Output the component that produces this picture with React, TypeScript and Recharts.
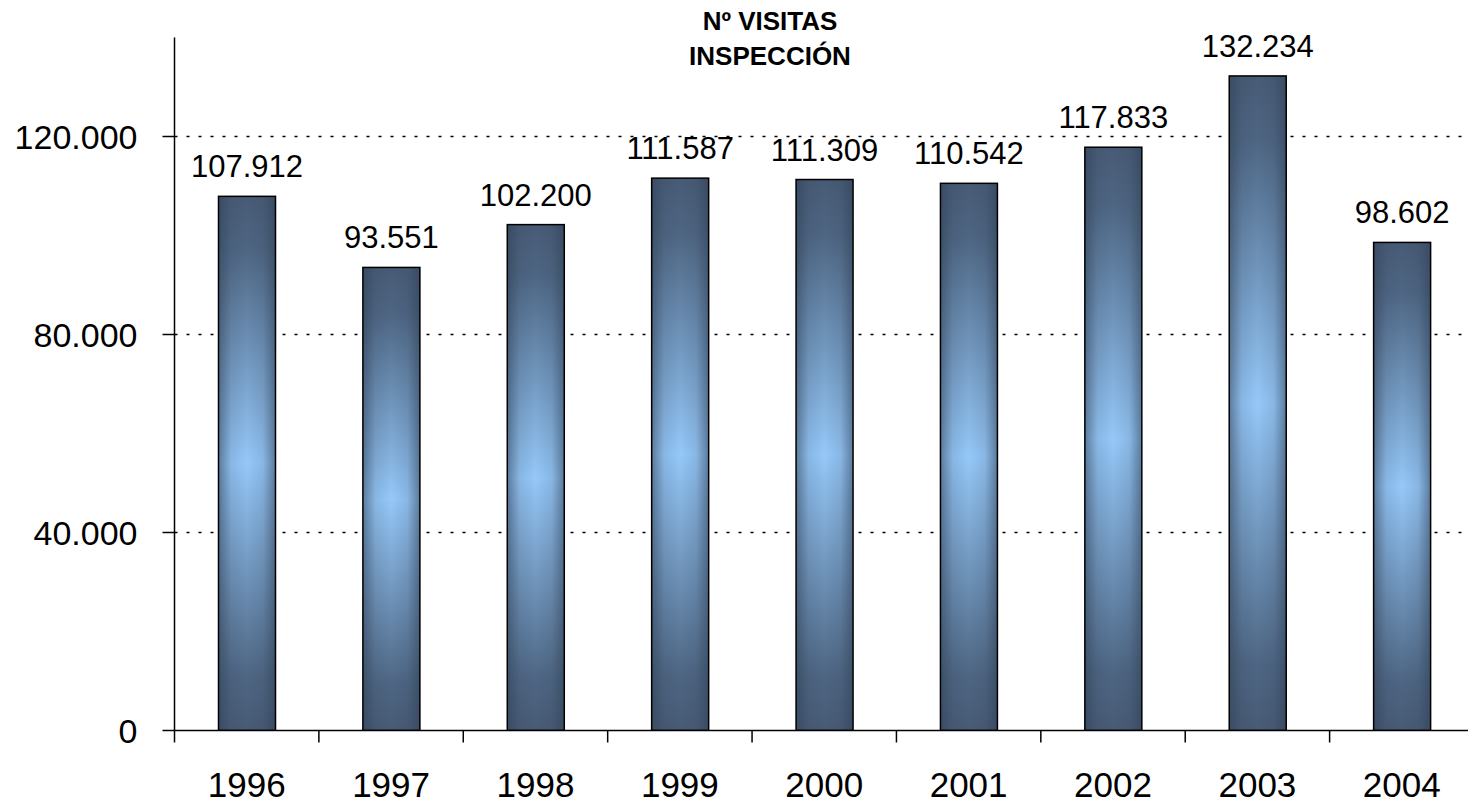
import { Bar, BarChart, CartesianGrid, LabelList, XAxis, YAxis } from "recharts";

const years = ["1996", "1997", "1998", "1999", "2000", "2001", "2002", "2003", "2004"];
const visits = [107912, 93551, 102200, 111587, 111309, 110542, 117833, 132234, 98602];
const yTicks = [0, 40000, 80000, 120000];
const gridValues = [40000, 80000, 120000];
const Y_MAX = 140000;

const chartData = years.map((year, i) => ({ year, visits: visits[i] }));

const CHART_W = 1474;
const CHART_H = 802;
const LEFT = 174.5;
const TOP = 37.5;
const X_AXIS_H = 71.5;
const BAND = (CHART_W - LEFT) / years.length;
const FONT = "'Liberation Sans', Arial, sans-serif";

const fmt = (v: number) => String(v).replace(/\B(?=(\d{3})+(?!\d))/g, ".");

const GradientBar = (props: any) => {
  const { x, y, width, height, index } = props;
  if (!height || height <= 0) return null;
  const vId = `bar-v-${index}`;
  const hId = `bar-h-${index}`;
  return (
    <g>
      <defs>
        <linearGradient id={vId} x1="0" y1="0" x2="0" y2="1">
          <stop offset="0%" stopColor="#485b76" />
          <stop offset="10%" stopColor="#4e6683" />
          <stop offset="50%" stopColor="#95c8f9" />
          <stop offset="90%" stopColor="#4e6683" />
          <stop offset="100%" stopColor="#485b76" />
        </linearGradient>
        <linearGradient id={hId} x1="0" y1="0" x2="1" y2="0">
          <stop offset="0%" stopColor="#2e3d52" stopOpacity={0.55} />
          <stop offset="22%" stopColor="#2e3d52" stopOpacity={0.12} />
          <stop offset="50%" stopColor="#2e3d52" stopOpacity={0} />
          <stop offset="78%" stopColor="#2e3d52" stopOpacity={0.12} />
          <stop offset="100%" stopColor="#2e3d52" stopOpacity={0.55} />
        </linearGradient>
      </defs>
      <rect x={x} y={y} width={width} height={height} fill={`url(#${vId})`} />
      <rect x={x} y={y} width={width} height={height} fill={`url(#${hId})`} />
      <rect x={x} y={y} width={width} height={height} fill="none" stroke="#000" strokeWidth={1.5} />
    </g>
  );
};

const YearTick = (props: any) => {
  const { x, y, payload } = props;
  const left = x - BAND / 2;
  const isLast = payload.index === years.length - 1;
  return (
    <g>
      <line x1={left} y1={y} x2={left} y2={y + 12} stroke="#000" strokeWidth={1.5} />
      {isLast && (
        <line x1={x + BAND / 2} y1={y} x2={x + BAND / 2} y2={y + 12} stroke="#000" strokeWidth={1.5} />
      )}
      <text x={x} y={y + 66} textAnchor="middle" fontSize={35} fontFamily={FONT} fill="#000">
        {payload.value}
      </text>
    </g>
  );
};

// grid only at the inner ticks (no line at 0 or at the top edge)
const gridRows = ({ offset }: any) =>
  gridValues.map((v) => offset.top + offset.height * (1 - v / Y_MAX));

export default function App() {
  return (
    <div
      style={{
        position: "absolute",
        left: 0,
        top: 0,
        width: 1468,
        height: 802,
        overflow: "hidden",
        background: "#fff",
        fontFamily: FONT,
      }}
    >
      <BarChart
        width={CHART_W}
        height={CHART_H}
        data={chartData}
        margin={{ top: TOP, right: 0, bottom: 0, left: 0 }}
      >
        <CartesianGrid
          vertical={false}
          stroke="#000"
          strokeWidth={1.5}
          strokeDasharray="3 9"
          horizontalCoordinatesGenerator={gridRows}
        />
        <XAxis
          dataKey="year"
          height={X_AXIS_H}
          tickSize={0}
          tickMargin={0}
          tickLine={false}
          axisLine={{ stroke: "#000", strokeWidth: 1.5 }}
          tick={<YearTick />}
          interval={0}
        />
        <YAxis
          width={LEFT}
          domain={[0, Y_MAX]}
          ticks={yTicks}
          tickFormatter={fmt}
          tickSize={12}
          tickMargin={25}
          axisLine={{ stroke: "#000", strokeWidth: 1.5 }}
          tickLine={{ stroke: "#000", strokeWidth: 1.5 }}
          tick={{ fontSize: 34, fill: "#000", fontFamily: FONT }}
          allowDataOverflow
        />
        <Bar
          dataKey="visits"
          barSize={57}
          shape={<GradientBar />}
          isAnimationActive={false}
        >
          <LabelList
            dataKey="visits"
            position="top"
            offset={19}
            formatter={(v: any) => fmt(Number(v))}
            fill="#000"
            fontSize={31}
            fontFamily={FONT}
          />
        </Bar>
      </BarChart>
      <div
        style={{
          position: "absolute",
          left: 570,
          width: 400,
          top: 0,
          textAlign: "center",
          fontWeight: "bold",
          fontSize: 26,
          lineHeight: "35px",
          paddingTop: 4,
          color: "#000",
        }}
      >
        Nº VISITAS
        <br />
        INSPECCIÓN
      </div>
    </div>
  );
}
